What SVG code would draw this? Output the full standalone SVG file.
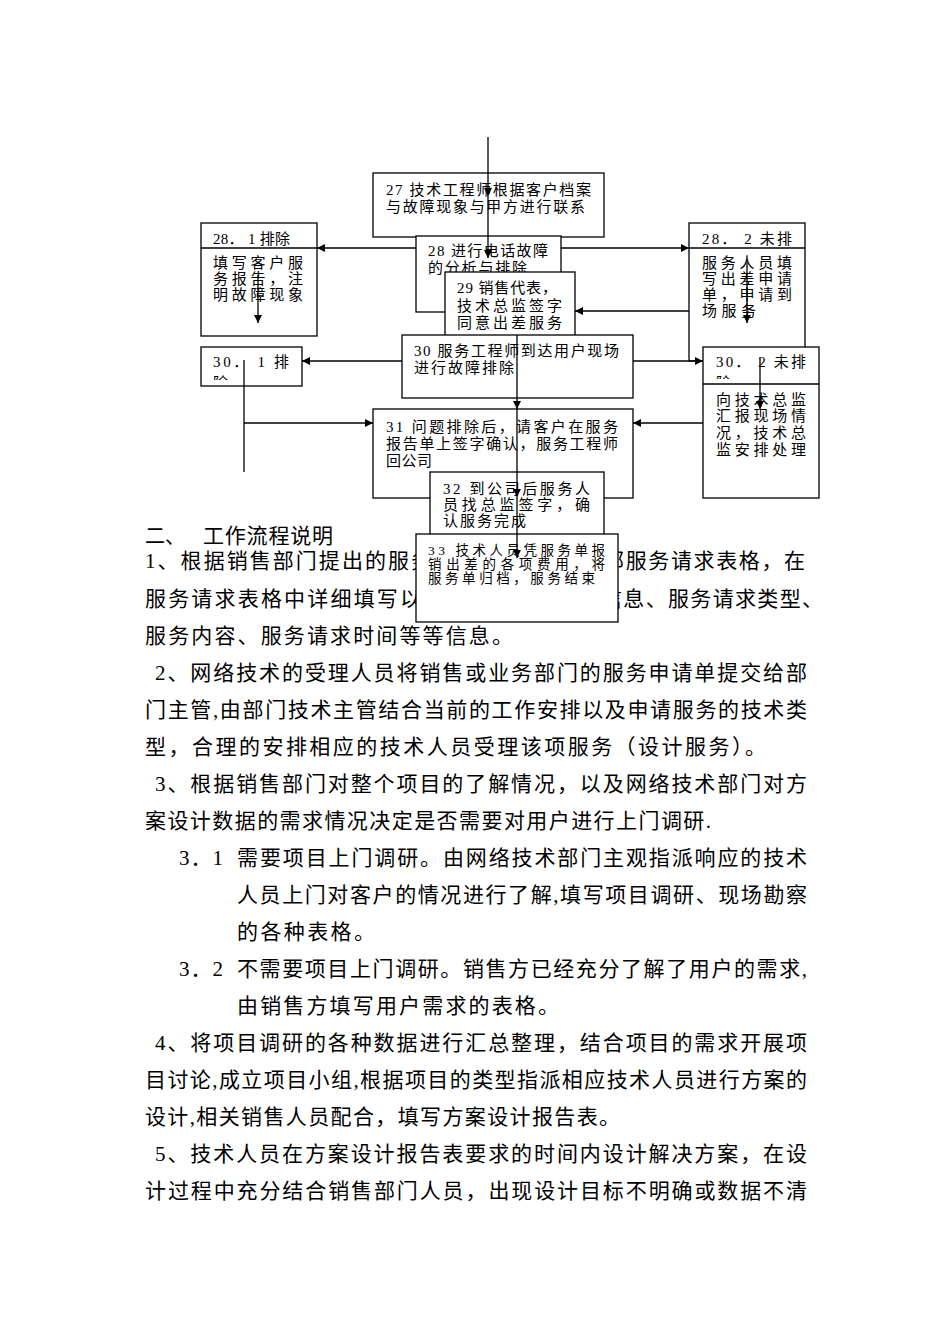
<svg xmlns="http://www.w3.org/2000/svg" width="950" height="1344" viewBox="0 0 950 1344">
<style>
.bx{fill:#fff;stroke:#000;stroke-width:1.3}
.dv{stroke:#000;stroke-width:1.3;fill:none}
.c{stroke:#000;stroke-width:1.3;fill:none}
.t{font-family:"Liberation Serif","Noto Sans CJK SC",serif;font-size:15px;fill:#000}
.s{font-size:13.5px}
.b{font-family:"Liberation Serif","Noto Sans CJK SC",serif;font-size:21px;fill:#000}
</style>
<defs>
<marker id="ah" viewBox="0 0 10 10" refX="10" refY="5" markerWidth="9" markerHeight="8" markerUnits="userSpaceOnUse" orient="auto">
<path d="M0,0 L10,5 L0,10 z" fill="#000"/>
</marker>
<clipPath id="cp301"><rect x="201" y="347" width="101" height="33"/></clipPath>
<clipPath id="cp302"><rect x="703" y="347" width="116" height="32"/></clipPath>
</defs>
<rect width="950" height="1344" fill="#fff"/>

<g id="body-text">
<text class="b" x="145" y="543" textLength="40" lengthAdjust="spacingAndGlyphs">二、</text>
<text class="b" x="203" y="543" textLength="130">工作流程说明</text>
<text class="b" x="145" y="568" textLength="287">1、根据销售部门提出的服务</text>
<text class="b" x="603" y="568" textLength="202">部服务请求表格，在</text>
<text class="b" x="145" y="606" textLength="276">服务请求表格中详细填写以</text>
<text class="b" x="601" y="606" textLength="222">信息、服务请求类型、</text>
<text class="b" x="145" y="643" textLength="368">服务内容、服务请求时间等等信息。</text>
<text class="b" x="155" y="680" textLength="652">2、网络技术的受理人员将销售或业务部门的服务申请单提交给部</text>
<text class="b" x="145" y="717" textLength="662">门主管,由部门技术主管结合当前的工作安排以及申请服务的技术类</text>
<text class="b" x="145" y="754" textLength="621">型，合理的安排相应的技术人员受理该项服务（设计服务）。</text>
<text class="b" x="155" y="791" textLength="652">3、根据销售部门对整个项目的了解情况，以及网络技术部门对方</text>
<text class="b" x="145" y="828" textLength="566">案设计数据的需求情况决定是否需要对用户进行上门调研.</text>
<text class="b" x="179" y="865" textLength="44">3．1</text>
<text class="b" x="237" y="865" textLength="570">需要项目上门调研。由网络技术部门主观指派响应的技术</text>
<text class="b" x="237" y="902" textLength="570">人员上门对客户的情况进行了解,填写项目调研、现场勘察</text>
<text class="b" x="237" y="939" textLength="138">的各种表格。</text>
<text class="b" x="179" y="976" textLength="44">3．2</text>
<text class="b" x="237" y="976" textLength="570">不需要项目上门调研。销售方已经充分了解了用户的需求,</text>
<text class="b" x="237" y="1013" textLength="322">由销售方填写用户需求的表格。</text>
<text class="b" x="155" y="1050" textLength="652">4、将项目调研的各种数据进行汇总整理，结合项目的需求开展项</text>
<text class="b" x="145" y="1087" textLength="662">目讨论,成立项目小组,根据项目的类型指派相应技术人员进行方案的</text>
<text class="b" x="145" y="1124" textLength="475">设计,相关销售人员配合，填写方案设计报告表。</text>
<text class="b" x="155" y="1161" textLength="652">5、技术人员在方案设计报告表要求的时间内设计解决方案，在设</text>
<text class="b" x="145" y="1198" textLength="662">计过程中充分结合销售部门人员，出现设计目标不明确或数据不清</text>
</g>

<g id="n27">
<rect class="bx" x="373" y="173" width="231" height="64"/>
<text class="t" x="386" y="195" textLength="205">27 技术工程师根据客户档案</text>
<text class="t" x="386" y="212" textLength="199">与故障现象与甲方进行联系</text>
</g>
<g id="n28">
<rect class="bx" x="416" y="236" width="145" height="76"/>
<text class="t" x="428" y="256" textLength="120">28 进行电话故障</text>
<text class="t" x="428" y="273" textLength="99">的分析与排除</text>
</g>
<g id="n29">
<rect class="bx" x="445" y="272" width="130" height="70"/>
<text class="t" x="457" y="293" textLength="100">29 销售代表，</text>
<text class="t" x="457" y="311" textLength="105">技术总监签字</text>
<text class="t" x="457" y="328" textLength="105">同意出差服务</text>
</g>
<g id="n30">
<rect class="bx" x="402" y="335" width="231" height="63"/>
<text class="t" x="414" y="356" textLength="205">30 服务工程师到达用户现场</text>
<text class="t" x="414" y="373" textLength="100">进行故障排除</text>
</g>
<g id="n31">
<rect class="bx" x="373" y="409" width="260" height="89"/>
<text class="t" x="386" y="432" textLength="232">31 问题排除后，请客户在服务</text>
<text class="t" x="386" y="449" textLength="232">报告单上签字确认，服务工程师</text>
<text class="t" x="386" y="466" textLength="46">回公司</text>
</g>
<g id="n32">
<rect class="bx" x="430" y="472" width="174" height="70"/>
<text class="t" x="443" y="494" textLength="147">32 到公司后服务人</text>
<text class="t" x="443" y="510" textLength="147">员找总监签字，确</text>
<text class="t" x="443" y="526" textLength="83">认服务完成</text>
</g>
<g id="n33">
<rect class="bx" x="416" y="534" width="202" height="88"/>
<text class="t s" x="428" y="555" textLength="177">33 技术人员凭服务单报</text>
<text class="t s" x="428" y="569" textLength="177">销出差的各项费用，将</text>
<text class="t s" x="428" y="583" textLength="167">服务单归档，服务结束</text>
</g>
<g id="n28-1">
<rect class="bx" x="201" y="223" width="116" height="113"/>
<line class="dv" x1="201" y1="248" x2="317" y2="248"/>
<text class="t" x="213" y="244" textLength="77">28． 1 排除</text>
<text class="t" x="213" y="268" textLength="90">填写客户服</text>
<text class="t" x="213" y="284" textLength="90">务报告，注</text>
<text class="t" x="213" y="300" textLength="90">明故障现象</text>
</g>
<g id="n28-2">
<rect class="bx" x="689" y="223" width="116" height="138"/>
<line class="dv" x1="689" y1="248" x2="805" y2="248"/>
<text class="t" x="702" y="244" textLength="90">28． 2 未排</text>
<text class="t" x="702" y="268" textLength="90">服务人员填</text>
<text class="t" x="702" y="284" textLength="90">写出差申请</text>
<text class="t" x="702" y="300" textLength="90">单，申请到</text>
<text class="t" x="702" y="316" textLength="54">场服务</text>
</g>
<g id="n30-1">
<rect class="bx" x="201" y="347" width="101" height="39"/>
<g clip-path="url(#cp301)">
<text class="t" x="213" y="367" textLength="76">30． 1 排</text>
<text class="t" x="213" y="388">除</text>
</g>
</g>
<g id="n30-2">
<rect class="bx" x="703" y="347" width="116" height="151"/>
<line class="dv" x1="703" y1="384" x2="819" y2="384"/>
<g clip-path="url(#cp302)">
<text class="t" x="716" y="367" textLength="90">30． 2 未排</text>
<text class="t" x="716" y="388">除</text>
</g>
<text class="t" x="716" y="405" textLength="90">向技术总监</text>
<text class="t" x="716" y="421" textLength="90">汇报现场情</text>
<text class="t" x="716" y="438" textLength="90">况，技术总</text>
<text class="t" x="716" y="455" textLength="90">监安排处理</text>
</g>

<g id="connectors">
<path class="c" d="M488,137 V196" marker-end="url(#ah)"/>
<path class="c" d="M488,196 V258" marker-end="url(#ah)"/>
<path class="c" d="M416,248 H317" marker-end="url(#ah)"/>
<path class="c" d="M561,248 H689" marker-end="url(#ah)"/>
<path class="c" d="M258,275 V323" marker-end="url(#ah)"/>
<path class="c" d="M747,262 V323" marker-end="url(#ah)"/>
<path class="c" d="M689,311 H575" marker-end="url(#ah)"/>
<path class="c" d="M402,361 H302" marker-end="url(#ah)"/>
<path class="c" d="M633,361 H703" marker-end="url(#ah)"/>
<path class="c" d="M244,360 V472"/>
<path class="c" d="M244,423 H373" marker-end="url(#ah)"/>
<path class="c" d="M703,423 H633" marker-end="url(#ah)"/>
<path class="c" d="M760,358 V409" marker-end="url(#ah)"/>
<path class="c" d="M517,335 V409" marker-end="url(#ah)"/>
<path class="c" d="M517,409 V497" marker-end="url(#ah)"/>
<path class="c" d="M517,497 V558" marker-end="url(#ah)"/>
</g>
</svg>
